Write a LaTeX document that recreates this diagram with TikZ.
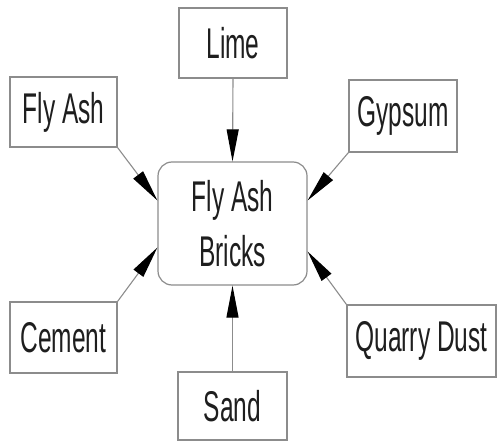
\documentclass[tikz,border=0pt]{standalone}
\usepackage{fontspec}
\setmainfont[FakeStretch=0.57]{Liberation Sans}
\usetikzlibrary{arrows.meta,calc}
\definecolor{edgegray}{HTML}{8C8C8C}
\definecolor{inkblack}{HTML}{1E1E1E}
\begin{document}
\begin{tikzpicture}[x=1pt,y=-1pt,
  box/.style={draw=edgegray,line width=1.2pt,fill=white,text=inkblack,
    inner sep=0pt,font=\fontsize{43}{55}\selectfont,align=center},
  feed/.style={draw=edgegray,line width=1.1pt,
    -{Triangle[length=32pt,width=12pt,fill=black,color=black]}}]
\useasboundingbox (0,0) rectangle (497,441);
% central product
\node[box,rounded corners=14pt,minimum width=149pt,minimum height=123pt]
  (bricks) at (232.5,223.5) {Fly Ash\\Bricks};
% raw materials
\node[box,minimum width=108pt,minimum height=70pt] (lime)   at (233,43)    {Lime};
\node[box,minimum width=107pt,minimum height=70pt] (flyash) at (63.5,112)  {Fly Ash};
\node[box,minimum width=108pt,minimum height=72pt] (gypsum) at (403,116)   {Gypsum};
\node[box,minimum width=107pt,minimum height=71pt] (cement) at (63.5,337.5){Cement};
\node[box,minimum width=149pt,minimum height=72pt] (quarry) at (421.5,341) {Quarry Dust};
\node[box,minimum width=109pt,minimum height=68pt] (sand)   at (232.5,406) {Sand};
% feeds into the product
\draw[feed] (lime.south) -- (bricks.north);
\draw[feed] (sand.north) -- (bricks.south);
\draw[feed] (flyash.south east) -- ($(bricks.west)+(0,-23)$);
\draw[feed] (gypsum.south west) -- ($(bricks.east)+(0,-23)$);
\draw[feed] (cement.north east) -- ($(bricks.west)+(0,24)$);
\draw[feed] (quarry.north west) -- ($(bricks.east)+(0,28)$);
\end{tikzpicture}
\end{document}
